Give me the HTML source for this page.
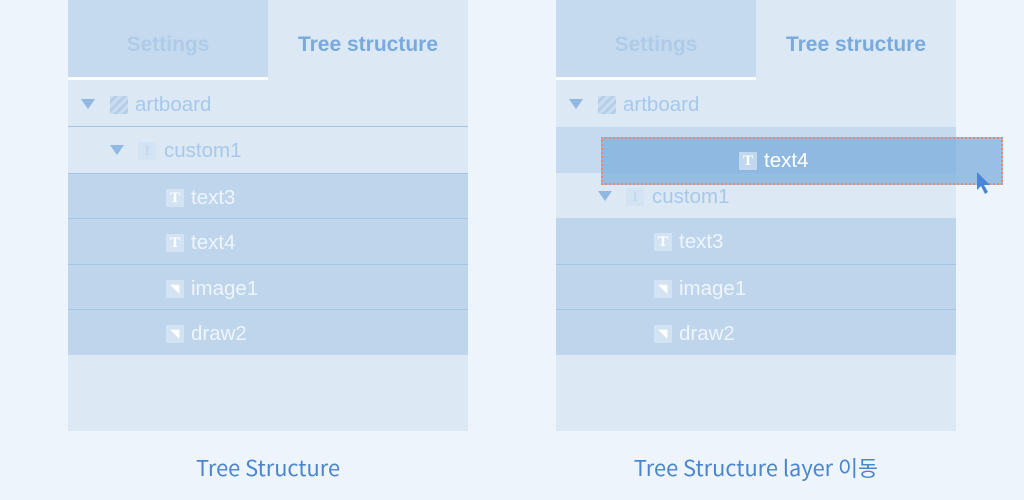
<!DOCTYPE html>
<html><head><meta charset="utf-8"><style>
*{margin:0;padding:0;box-sizing:border-box}
body{width:1024px;height:500px;background:#eef4fb;position:relative;overflow:hidden;font-family:"Liberation Sans","Noto Sans CJK KR",sans-serif}
.a{position:absolute}
.panel{position:absolute;top:0;width:400px;height:431px;background:#dce8f4}
.tab1{position:absolute;left:0;top:0;width:200px;height:80px;background:#c5daee;color:#afcbe8;font-weight:bold;font-size:21px;text-align:center;line-height:90px;border-bottom:3px solid #fff}
.tab2{position:absolute;left:200px;top:0;width:200px;height:80px;color:#7aaadc;font-weight:bold;font-size:21px;text-align:center;line-height:90px}
.row{position:absolute;left:0;width:400px;height:46px;font-size:20.5px;line-height:48px;color:#a8c8ea}
.sel{background:#bed5ec;color:#eef5fc;border-top:1px solid #a3c4e6}
.ln{border-bottom:1px solid #a3c4e6}
.tri{position:absolute;top:18px;width:0;height:0;border-left:7px solid transparent;border-right:7px solid transparent;border-top:10px solid #8fb8e2}
.ic{position:absolute;top:15px;width:18px;height:18px;background:rgba(255,255,255,0.35);color:#fff;font:bold 15px/18px "Liberation Serif",serif;text-align:center}
.lb{position:absolute}
.cap{position:absolute;top:453px;height:30px;line-height:30px;font-size:21.8px;color:#4a86cf;text-align:center;width:400px;font-family:"Noto Sans CJK KR",sans-serif}
</style></head><body>

<div class="panel" style="left:68px">
 <div class="tab1">Settings</div><div class="tab2">Tree structure</div>
 <div class="row ln" style="top:81px"><div class="tri" style="left:13px"></div><div class="ic" style="left:42px;background:repeating-linear-gradient(135deg,#c9dcf0 0 3px,#b4cde9 3px 6px)"></div><div class="lb" style="left:67px">artboard</div></div>
 <div class="row" style="top:127px"><div class="tri" style="left:42px"></div><div class="ic" style="left:70px;color:#c4d9ef;background:#d3e3f3">I</div><div class="lb" style="left:96px">custom1</div></div>
 <div class="row sel" style="top:173px"><div class="ic" style="left:98px">T</div><div class="lb" style="left:123px">text3</div></div>
 <div class="row sel" style="top:218px"><div class="ic" style="left:98px">T</div><div class="lb" style="left:123px">text4</div></div>
 <div class="row sel" style="top:264px"><div class="ic" style="left:98px;font-size:11px">◥</div><div class="lb" style="left:123px">image1</div></div>
 <div class="row sel" style="top:309px;height:46px"><div class="ic" style="left:98px;font-size:11px">◥</div><div class="lb" style="left:123px">draw2</div></div>
</div>

<div class="panel" style="left:556px">
 <div class="tab1">Settings</div><div class="tab2">Tree structure</div>
 <div class="row" style="top:81px"><div class="tri" style="left:13px"></div><div class="ic" style="left:42px;background:repeating-linear-gradient(135deg,#c9dcf0 0 3px,#b4cde9 3px 6px)"></div><div class="lb" style="left:67px">artboard</div></div>
 <div class="row" style="top:127px;background:#c5daee"></div>
 <div class="row ln" style="top:173px"><div class="tri" style="left:42px"></div><div class="ic" style="left:70px;color:#c4d9ef;background:#d3e3f3">I</div><div class="lb" style="left:96px">custom1</div></div>
 <div class="row sel" style="top:218px;border-top:none"><div class="ic" style="left:98px">T</div><div class="lb" style="left:123px">text3</div></div>
 <div class="row sel" style="top:264px"><div class="ic" style="left:98px;font-size:11px">◥</div><div class="lb" style="left:123px">image1</div></div>
 <div class="row sel" style="top:309px"><div class="ic" style="left:98px;font-size:11px">◥</div><div class="lb" style="left:123px">draw2</div></div>
</div>

<div class="a" style="left:601px;top:137px;width:402px;height:48px;background:rgba(130,175,222,0.78);border:2px dotted #f0866a;font-size:20.5px;color:#fff;line-height:44px">
 <div class="ic" style="left:136px;top:13px;background:rgba(255,255,255,0.45)">T</div><div class="lb" style="left:161px">text4</div>
</div>
<svg class="a" style="left:972px;top:170px" width="22" height="26"><path d="M5 2 L5 20 L9 16 L13 24 L16 22 L12 15 L18 15 Z" fill="#4a86d6"/></svg>

<div class="cap" style="left:68px">Tree Structure</div>
<div class="cap" style="left:556px">Tree Structure layer 이동</div>
</body></html>
